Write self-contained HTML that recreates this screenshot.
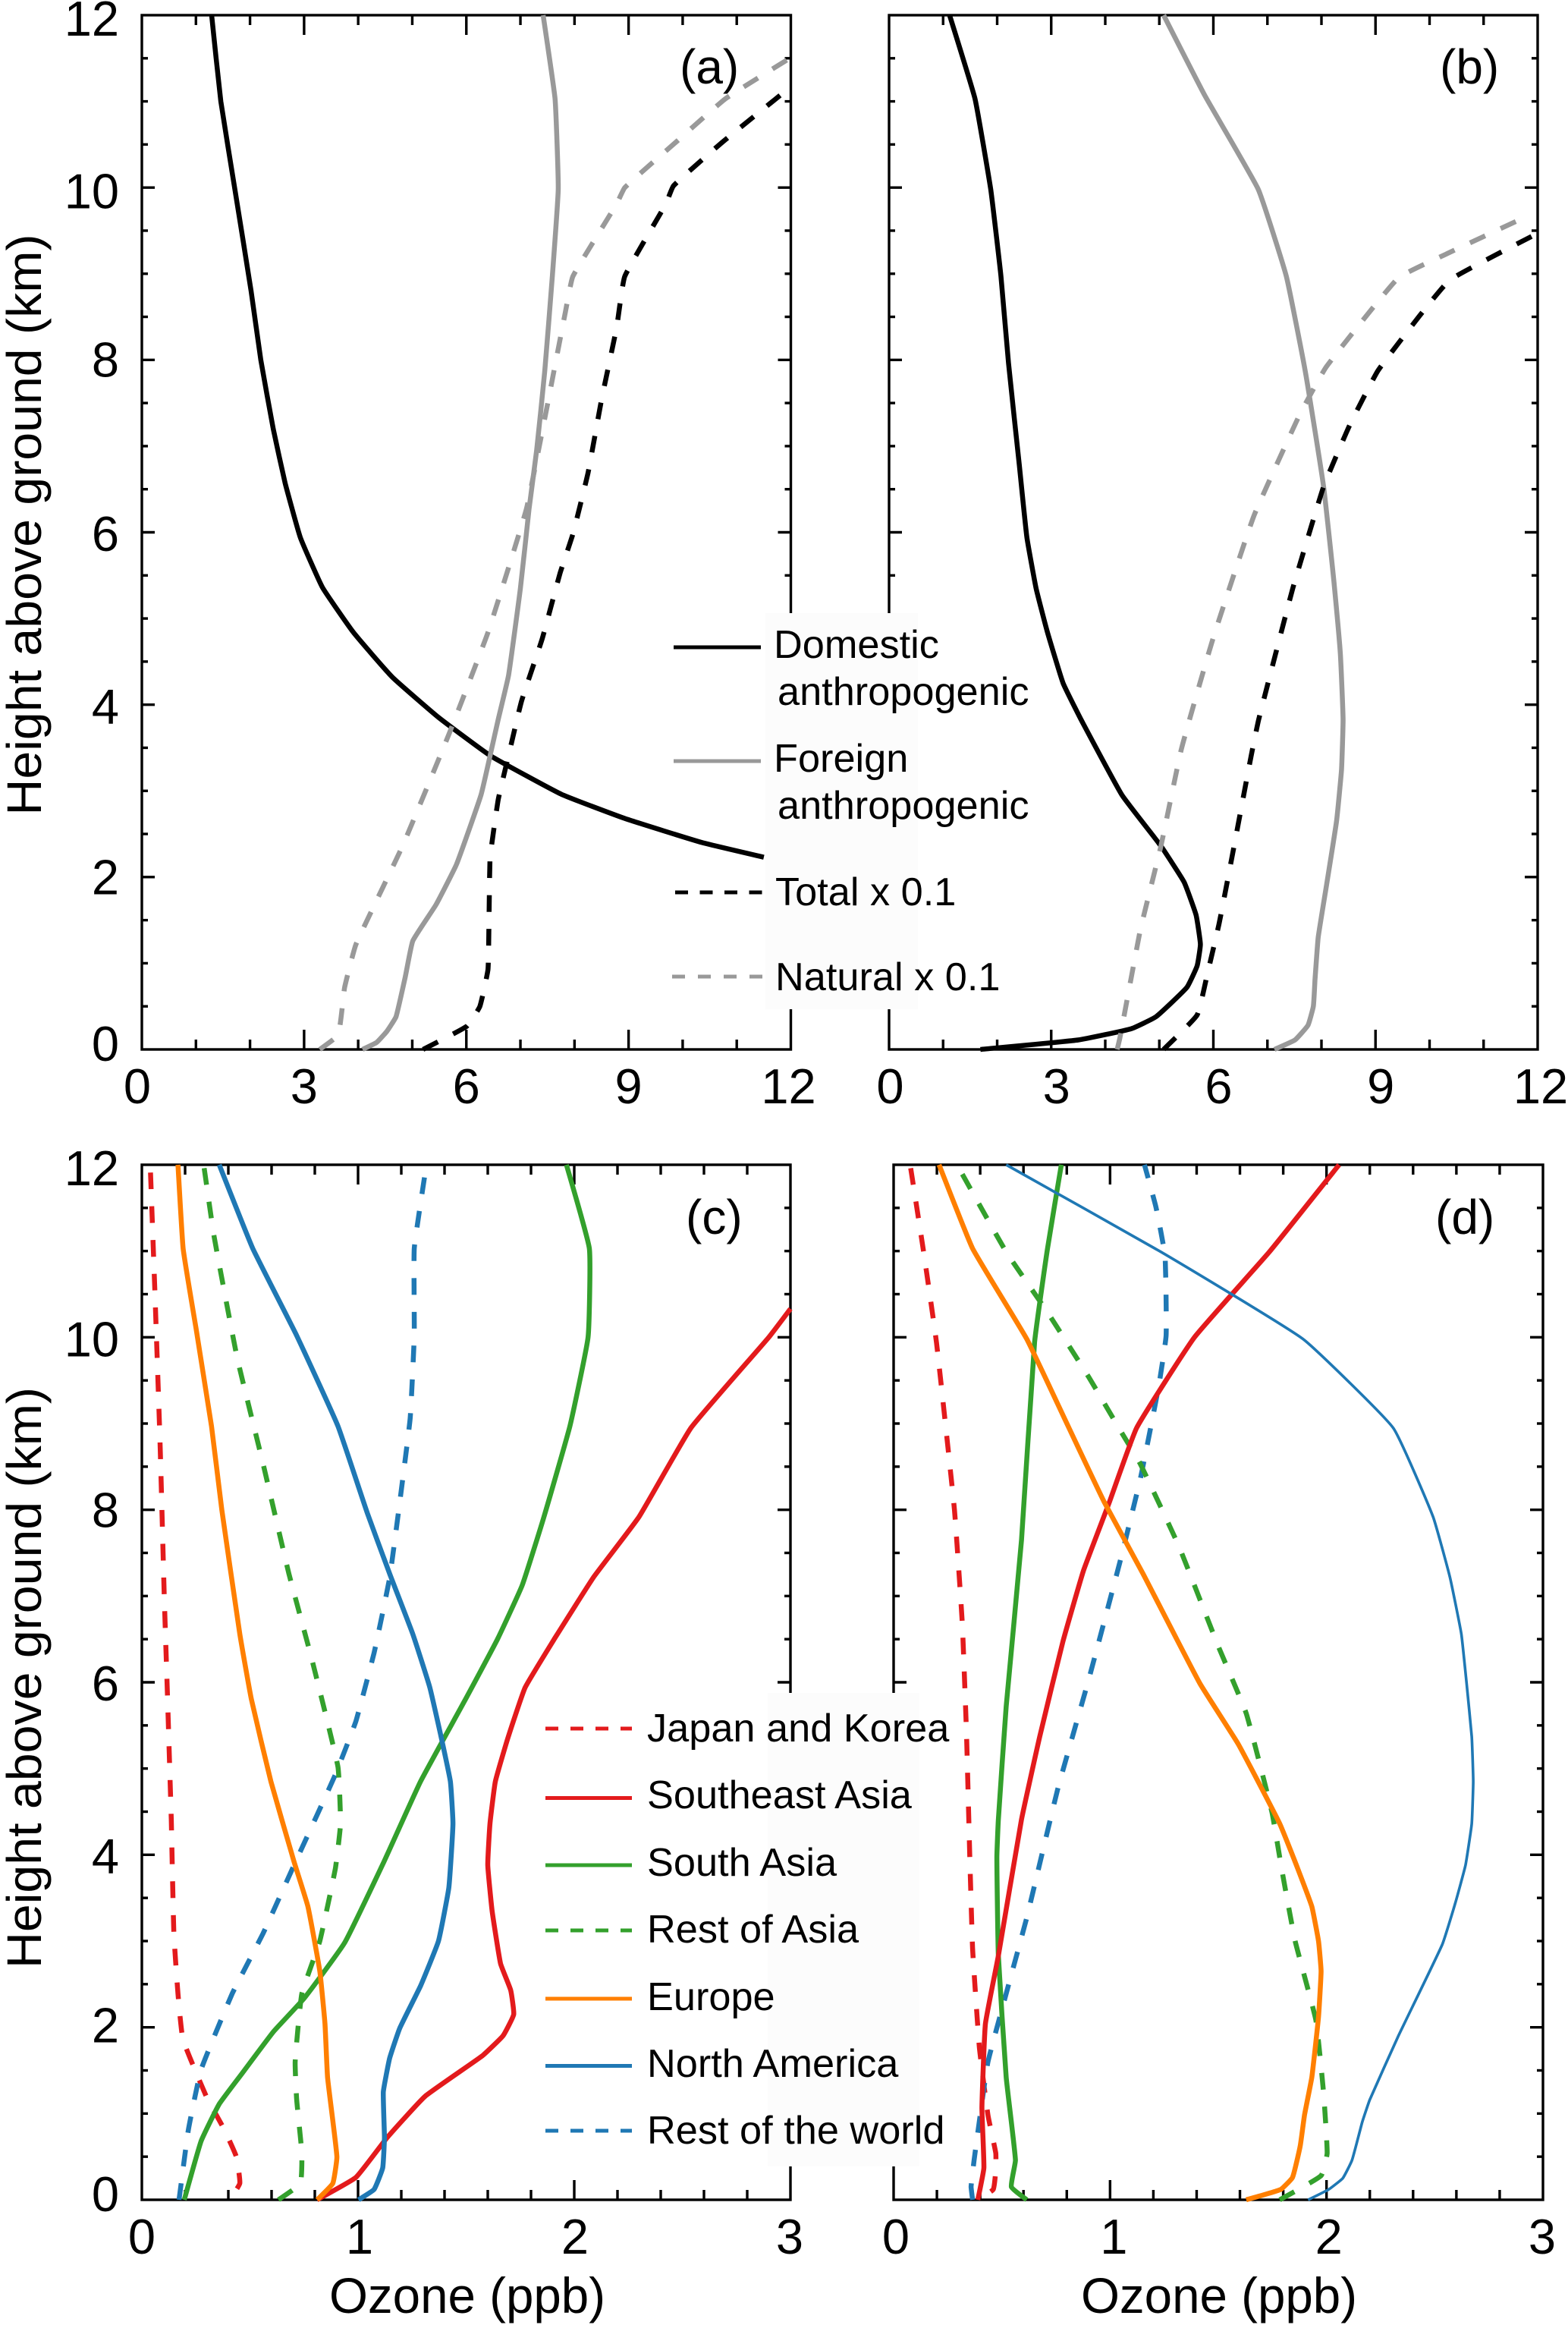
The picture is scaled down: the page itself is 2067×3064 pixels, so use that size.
<!DOCTYPE html>
<html>
<head>
<meta charset="utf-8">
<title>Ozone vertical profiles</title>
<style>
html,body{margin:0;padding:0;background:#fff;}
svg{display:block;}
text{font-family:"Liberation Sans",sans-serif;fill:#000;}
</style>
</head>
<body>
<svg id="chart" xmlns="http://www.w3.org/2000/svg" width="2067" height="3064" viewBox="0 0 2067 3064"></svg>
<script>
// Shared heights / tick data
const xTicksTop = [0, 3, 6, 9, 12];
const xTicksBottom = [0, 1, 2, 3];
const yTicks = [0, 2, 4, 6, 8, 10, 12];

// Panel (a)
const aDomesticX = [1.29,1.46,1.72,2.02,2.2,2.43,2.65,2.93,3.34,3.91,4.63,5.49,6.44,7.76,8.93,10.36,11.5];
const aDomesticH = [12,11,9.98,8.8,8,7.2,6.57,5.94,5.36,4.84,4.32,3.85,3.41,2.96,2.68,2.4,2.23];
const aForeignX = [7.42,7.64,7.7,7.59,7.45,7.3,7.16,7.0,6.78,6.59,6.44,6.27,5.82,5.44,5.01,4.87,4.7,4.53,4.34,4.08];
const aForeignH = [12,11.03,9.98,8.97,7.87,6.95,6.27,5.35,4.34,3.83,3.41,2.95,2.15,1.68,1.26,0.84,0.38,0.21,0.08,0];
const aTotalX = [5.2,6.01,6.25,6.4,6.42,6.44,6.59,6.78,7.02,7.4,7.73,7.97,8.25,8.5,8.78,8.93,9.69,9.83,10.74,11.98];
const aTotalH = [0,0.27,0.5,0.93,1.56,2.23,2.9,3.41,4.04,4.76,5.52,5.98,6.69,7.54,8.38,8.97,9.81,10.02,10.53,11.16];
const aNaturalX = [3.29,3.63,3.75,3.96,4.82,5.68,6.4,7.11,7.49,7.83,7.97,8.78,8.93,9.88,10.79,11.98];
const aNaturalH = [0,0.17,0.72,1.22,2.36,3.66,4.84,6.27,7.45,8.55,8.97,9.81,10,10.53,11.03,11.5];

// Panel (b)
const bDomesticX = [1.12,1.59,1.88,2.07,2.21,2.41,2.55,2.72,2.93,3.22,3.55,4.31,5.03,5.46,5.68,5.76,5.7,5.51,4.94,4.48,3.5,1.69];
const bDomesticH = [12,11.03,9.98,8.97,7.96,6.78,5.94,5.35,4.84,4.25,3.83,2.95,2.36,1.94,1.56,1.22,0.97,0.72,0.38,0.24,0.11,0];
const bForeignX = [5.08,5.84,6.83,7.35,7.7,8.04,8.23,8.35,8.4,8.37,8.28,8.09,7.94,7.88,7.85,7.75,7.51,7.13];
const bForeignH = [12,11.07,9.98,8.97,7.87,6.53,5.43,4.59,3.83,3.24,2.65,1.89,1.3,0.8,0.5,0.28,0.11,0];
const bTotalX = [5.08,5.7,5.89,6.11,6.42,6.7,6.84,7.47,8.04,8.52,9.04,9.8,10.38,12];
const bTotalH = [0,0.4,0.88,1.47,2.48,3.41,3.83,5.35,6.53,7.24,7.87,8.5,8.93,9.47];
const bNaturalX = [4.22,4.27,4.65,5.03,5.41,5.99,6.75,7.6,8.09,9.42,10.28,11.71];
const bNaturalH = [0,0.13,1.39,2.36,3.49,4.76,6.19,7.37,7.92,8.95,9.22,9.64];

// Panel (c)
const cJapanX = [0.04,0.06,0.084,0.103,0.119,0.136,0.148,0.167,0.19,0.298,0.382,0.437,0.453,0.406];
const cJapanH = [11.91,10.55,8.8,7.04,5.81,4.41,3.09,2.39,1.86,1.2,0.81,0.5,0.19,0];
const cSoutheastX = [0.81,0.99,1.134,1.31,1.575,1.67,1.72,1.706,1.659,1.62,1.6,1.61,1.635,1.695,1.773,1.91,2.09,2.3,2.54,2.9,3];
const cSoutheastH = [0,0.26,0.72,1.2,1.67,1.9,2.15,2.43,2.74,3.35,3.88,4.36,4.85,5.37,5.94,6.51,7.22,7.92,8.95,10,10.33];
const cSouthAsiaX = [0.196,0.274,0.358,0.465,0.609,0.752,0.938,1.12,1.289,1.49,1.647,1.76,1.86,1.98,2.064,2.07,1.964];
const cSouthAsiaH = [0,0.68,1.11,1.47,1.95,2.34,2.98,3.92,4.85,5.77,6.51,7.13,7.92,8.97,10,11.03,12];
const cRestAsiaX = [0.632,0.733,0.74,0.716,0.709,0.74,0.823,0.895,0.919,0.907,0.788,0.68,0.561,0.441,0.334,0.286];
const cRestAsiaH = [0,0.19,0.54,1.16,1.6,2.39,3,3.84,4.36,5.02,6.25,7.26,8.53,9.76,11.17,12];
const cEuropeX = [0.811,0.883,0.902,0.859,0.847,0.823,0.768,0.704,0.597,0.506,0.453,0.37,0.322,0.25,0.191,0.167];
const cEuropeH = [0,0.19,0.5,1.42,2.04,2.65,3.4,3.92,4.85,5.81,6.56,8,8.97,10.11,11.03,12];
const cNorthAmX = [1.002,1.074,1.114,1.122,1.117,1.146,1.193,1.289,1.372,1.42,1.439,1.427,1.384,1.332,1.253,1.146,1.043,0.907,0.716,0.513,0.358];
const cNorthAmH = [0,0.12,0.37,0.72,1.25,1.64,1.99,2.48,3,3.62,4.36,4.85,5.37,5.94,6.56,7.26,7.96,8.97,10.02,11.03,12];
const cRestWorldX = [0.172,0.215,0.274,0.418,0.561,0.704,0.895,0.99,1.074,1.146,1.193,1.241,1.26,1.26,1.313];
const cRestWorldH = [0,0.81,1.51,2.39,3.09,3.88,4.93,5.55,6.34,7.21,8.09,9.06,10.02,11.03,11.95];

// Panel (d)
const dJapanX = [0.079,0.138,0.198,0.281,0.317,0.336,0.353,0.365,0.396,0.436,0.472,0.472,0.46,0.389];
const dJapanH = [11.96,11,9.94,8,6.69,5.46,3.88,2.91,1.77,0.98,0.54,0.35,0.12,0];
const dSoutheastX = [0.389,0.417,0.408,0.424,0.484,0.591,0.675,0.782,0.878,0.997,1.123,1.39,1.736,2.058];
const dSoutheastH = [0,0.37,1.07,2.04,2.83,4.41,5.37,6.47,7.3,8.09,8.95,10,10.99,12];
const dSouthAsiaX = [0.615,0.544,0.563,0.52,0.484,0.477,0.484,0.52,0.591,0.651,0.711,0.775];
const dSouthAsiaH = [0,0.15,0.46,1.42,2.83,3.97,4.41,5.72,7.65,9.94,11.03,12];
const dRestAsiaX = [1.784,1.975,2.003,1.986,1.951,1.855,1.796,1.748,1.629,1.498,1.319,1.14,1.045,0.901,0.711,0.52,0.293];
const dRestAsiaH = [0,0.28,0.54,1.25,2.08,3,3.79,4.49,5.64,6.43,7.57,8.53,8.93,9.54,10.29,10.99,12];
const dEuropeX = [1.629,1.788,1.843,1.879,1.898,1.932,1.963,1.975,1.963,1.932,1.867,1.784,1.593,1.414,1.152,0.973,0.806,0.615,0.365,0.21];
const dEuropeH = [0,0.12,0.26,0.63,0.98,1.42,2.12,2.65,3,3.4,3.84,4.36,5.28,5.99,7.26,8.09,8.97,9.98,11.03,12];
const dNorthAmX = [1.915,2.01,2.075,2.118,2.165,2.2,2.332,2.535,2.595,2.642,2.671,2.678,2.671,2.647,2.623,2.57,2.492,2.308,1.891,1.235,0.52];
const dNorthAmH = [0,0.12,0.25,0.46,0.9,1.16,1.9,2.96,3.44,3.88,4.36,4.85,5.37,5.99,6.56,7.22,7.92,8.95,9.98,10.99,12];
const dRestWorldX = [0.365,0.358,0.372,0.4,0.436,0.52,0.615,0.758,0.901,1.045,1.14,1.223,1.259,1.254,1.212,1.159];
const dRestWorldH = [0,0.15,0.46,0.98,1.6,2.39,3.27,4.76,6.03,7.39,8.36,9.41,10.02,10.94,11.51,12];

const NS = 'http://www.w3.org/2000/svg';
const root = document.getElementById('chart');

function el(parent, tag, attrs, name, txt) {
  const e = document.createElementNS(NS, tag);
  for (const k in attrs) e.setAttribute(k, attrs[k]);
  
  
  if (txt !== undefined) e.textContent = txt;
  parent.appendChild(e);
  return e;
}
function label(parent, x, y, str, name, size, anchor) {
  return el(parent, 'text', {x: x, y: y, 'font-size': size, 'text-anchor': anchor}, name, str);
}
const DASH = '22 22.5';
const COLORS = {black:'#000000', grey:'#999999', red:'#e31a1c', green:'#33a02c', orange:'#ff7f00', blue:'#1f78b4'};

function smoothPath(p) {
  const unit = (a, b) => {
    const dx = b[0] - a[0], dy = b[1] - a[1], n = Math.hypot(dx, dy) || 1;
    return [dx / n, dy / n];
  };
  let d = 'M' + p[0][0].toFixed(1) + ' ' + p[0][1].toFixed(1);
  for (let i = 0; i < p.length - 1; i++) {
    const p0 = p[Math.max(i - 1, 0)], p1 = p[i], p2 = p[i + 1], p3 = p[Math.min(i + 2, p.length - 1)];
    const len = Math.hypot(p2[0] - p1[0], p2[1] - p1[1]) * 0.12;
    const t1 = unit(p0, p2), t2 = unit(p1, p3);
    d += ' C' + (p1[0] + t1[0] * len).toFixed(1) + ' ' + (p1[1] + t1[1] * len).toFixed(1) + ' ' +
         (p2[0] - t2[0] * len).toFixed(1) + ' ' + (p2[1] - t2[1] * len).toFixed(1) + ' ' +
         p2[0].toFixed(1) + ' ' + p2[1].toFixed(1);
  }
  return d;
}

function makePanel(id, box, xMax, xMinor, xLabels, xOffsets, letter, letterPos, yLabelBase, yLabelNudge, titleX, series) {
  const g = el(root, 'g', {}, 'panel-' + id);
  const sx = v => box.l + v / xMax * (box.r - box.l);
  const sy = h => box.b - h / 12 * (box.b - box.t);
  const axis = el(g, 'g', {stroke:'#000', 'stroke-width':3.4, fill:'none'}, 'axes-' + id);
  el(axis, 'rect', {x:box.l, y:box.t, width:box.r-box.l, height:box.b-box.t}, 'plot-frame-' + id);
  const nx = Math.round(xMax / xMinor);
  for (let i = 1; i < nx; i++) {
    const v = i * xMinor;
    const major = xLabels.some(t => Math.abs(t - v) < 1e-6);
    const len = major ? 26 : 13;
    el(axis, 'line', {x1:sx(v), x2:sx(v), y1:box.b, y2:box.b-len}, 'x-tick-bottom-' + id);
    el(axis, 'line', {x1:sx(v), x2:sx(v), y1:box.t, y2:box.t+len}, 'x-tick-top-' + id);
  }
  for (let i = 1; i < 24; i++) {
    const h = i * 0.5;
    const len = (i % 4 === 0) ? 17 : 8;
    el(axis, 'line', {x1:box.l, x2:box.l+len, y1:sy(h), y2:sy(h)}, 'y-tick-left-' + id);
    el(axis, 'line', {x1:box.r, x2:box.r-len, y1:sy(h), y2:sy(h)}, 'y-tick-right-' + id);
  }
  series.forEach(s => {
    const pts = s.x.map((v, i) => [sx(v), sy(s.h[i])]);
    const a = {d:smoothPath(pts), fill:'none', stroke:s.color, 'stroke-width':s.w || 6.5, 'stroke-linejoin':'round'};
    if (s.dash) a['stroke-dasharray'] = DASH;
    el(g, 'path', a, 'series-' + id + '-' + s.name);
  });
  xLabels.forEach((t, i) => {
    label(g, sx(t) + xOffsets[i], box.b + 71, String(t), 'x-tick-label-' + id, 65, 'middle');
  });
  if (yLabelBase !== null) {
    yTicks.forEach((h, i) => {
      label(g, 157, yLabelBase - h / 12 * 1352 + yLabelNudge[i], String(h), 'y-tick-label-' + id, 65, 'end');
    });
    const cy = (box.t + box.b) / 2 + (id === 'a' ? -10 : 0) - (id === 'c' ? 6 : 0);
    el(g, 'text', {x:0, y:0, 'font-size':64, 'text-anchor':'middle', textLength:766, lengthAdjust:'spacingAndGlyphs', transform:'translate(54 ' + cy + ') rotate(-90)'}, 'y-axis-title-' + id, 'Height above ground (km)');
  }
  label(g, letterPos[0], letterPos[1], '(' + letter + ')', 'panel-label-' + id, 64, 'start');
  if (titleX !== null) {
    label(g, titleX, 3048, 'Ozone (ppb)', 'x-axis-title-' + id, 65.5, 'middle');
  }
}

const boxA = {l:187, r:1042.5, t:20, b:1383};
const boxB = {l:1172, r:2027, t:20, b:1383};
const boxC = {l:187, r:1042, t:1535, b:2899};
const boxD = {l:1178, r:2034, t:1535, b:2899};

makePanel('a', boxA, 12, 1, xTicksTop, [-6,0,0,0,-3], 'a', [896,110], 1398, [0,6,6,4,0,3,1], null, [
  {name:'domestic', x:aDomesticX, h:aDomesticH, color:COLORS.black},
  {name:'foreign', x:aForeignX, h:aForeignH, color:COLORS.grey},
  {name:'total', x:aTotalX, h:aTotalH, color:COLORS.black, dash:true},
  {name:'natural', x:aNaturalX, h:aNaturalH, color:COLORS.grey, dash:true}
]);
makePanel('b', boxB, 12, 1, xTicksTop, [1.5,7,7,7,4], 'b', [1898,110], null, null, null, [
  {name:'domestic', x:bDomesticX, h:bDomesticH, color:COLORS.black},
  {name:'foreign', x:bForeignX, h:bForeignH, color:COLORS.grey},
  {name:'total', x:bTotalX, h:bTotalH, color:COLORS.black, dash:true},
  {name:'natural', x:bNaturalX, h:bNaturalH, color:COLORS.grey, dash:true}
]);
makePanel('c', boxC, 3, 0.2, xTicksBottom, [0,2,1,-1], 'c', [904,1626], 2914, [0,3,5,3,0,0,0], 616, [
  {name:'japan-korea', x:cJapanX, h:cJapanH, color:COLORS.red, dash:true},
  {name:'rest-of-world', x:cRestWorldX, h:cRestWorldH, color:COLORS.blue, dash:true},
  {name:'rest-of-asia', x:cRestAsiaX, h:cRestAsiaH, color:COLORS.green, dash:true},
  {name:'south-asia', x:cSouthAsiaX, h:cSouthAsiaH, color:COLORS.green},
  {name:'southeast-asia', x:cSoutheastX, h:cSoutheastH, color:COLORS.red},
  {name:'north-america', x:cNorthAmX, h:cNorthAmH, color:COLORS.blue},
  {name:'europe', x:cEuropeX, h:cEuropeH, color:COLORS.orange}
]);
makePanel('d', boxD, 3, 0.2, xTicksBottom, [3,5,3,-1], 'd', [1892,1626], null, null, 1607, [
  {name:'japan-korea', x:dJapanX, h:dJapanH, color:COLORS.red, dash:true},
  {name:'rest-of-world', x:dRestWorldX, h:dRestWorldH, color:COLORS.blue, dash:true},
  {name:'rest-of-asia', x:dRestAsiaX, h:dRestAsiaH, color:COLORS.green, dash:true},
  {name:'south-asia', x:dSouthAsiaX, h:dSouthAsiaH, color:COLORS.green},
  {name:'southeast-asia', x:dSoutheastX, h:dSoutheastH, color:COLORS.red},
  {name:'north-america', x:dNorthAmX, h:dNorthAmH, color:COLORS.blue, w:3.6},
  {name:'europe', x:dEuropeX, h:dEuropeH, color:COLORS.orange}
]);

// Legends
const topLegend = el(root, 'g', {}, 'source-legend');
el(topLegend, 'rect', {x:1009, y:808, width:201, height:522, fill:'#fcfcfc'}, 'source-legend-background');
function legendLine(parent, x1, x2, y, color, dash, name) {
  const a = {x1:x1, x2:x2, y1:y, y2:y, stroke:color, 'stroke-width':5};
  if (dash) a['stroke-dasharray'] = dash;
  el(parent, 'line', a, name);
}
legendLine(topLegend, 888, 1003, 853, COLORS.black, null, 'legend-line-domestic');
legendLine(topLegend, 888, 1003, 1003, COLORS.grey, null, 'legend-line-foreign');
legendLine(topLegend, 890, 1005, 1176, COLORS.black, '17 15.5', 'legend-line-total');
legendLine(topLegend, 886, 1005, 1287, COLORS.grey, '17 17', 'legend-line-natural');
label(topLegend, 1020, 867, 'Domestic', 'legend-text-domestic', 52.3, 'start');
label(topLegend, 1025, 929, 'anthropogenic', 'legend-text-domestic-2', 52.3, 'start');
label(topLegend, 1020, 1017, 'Foreign', 'legend-text-foreign', 52.3, 'start');
label(topLegend, 1025, 1079, 'anthropogenic', 'legend-text-foreign-2', 52.3, 'start');
label(topLegend, 1022, 1193, 'Total x 0.1', 'legend-text-total', 52.3, 'start');
label(topLegend, 1022, 1305, 'Natural x 0.1', 'legend-text-natural', 52.3, 'start');

const regionNames = ['Japan and Korea','Southeast Asia','South Asia','Rest of Asia','Europe','North America','Rest of the world'];
const regionColors = ['red','red','green','green','orange','blue','blue'];
const regionDashed = [true,false,false,true,false,false,true];
const regionLineY = [2278,2369.5,2458,2544,2634,2722.5,2808];
const regionTextY = [2295,2383,2472,2560,2649,2737,2825];
const lowLegend = el(root, 'g', {}, 'region-legend');
el(lowLegend, 'rect', {x:1012, y:2231, width:200, height:624, fill:'#fcfcfc'}, 'region-legend-background');
regionNames.forEach((n, i) => {
  legendLine(lowLegend, 719, 833, regionLineY[i], COLORS[regionColors[i]], regionDashed[i] ? '17 16' : null, 'legend-line-' + n.toLowerCase().replace(/ /g, '-'));
  label(lowLegend, 853, regionTextY[i], n, 'legend-text-' + n.toLowerCase().replace(/ /g, '-'), 52.3, 'start');
});
</script>
</body>
</html>
